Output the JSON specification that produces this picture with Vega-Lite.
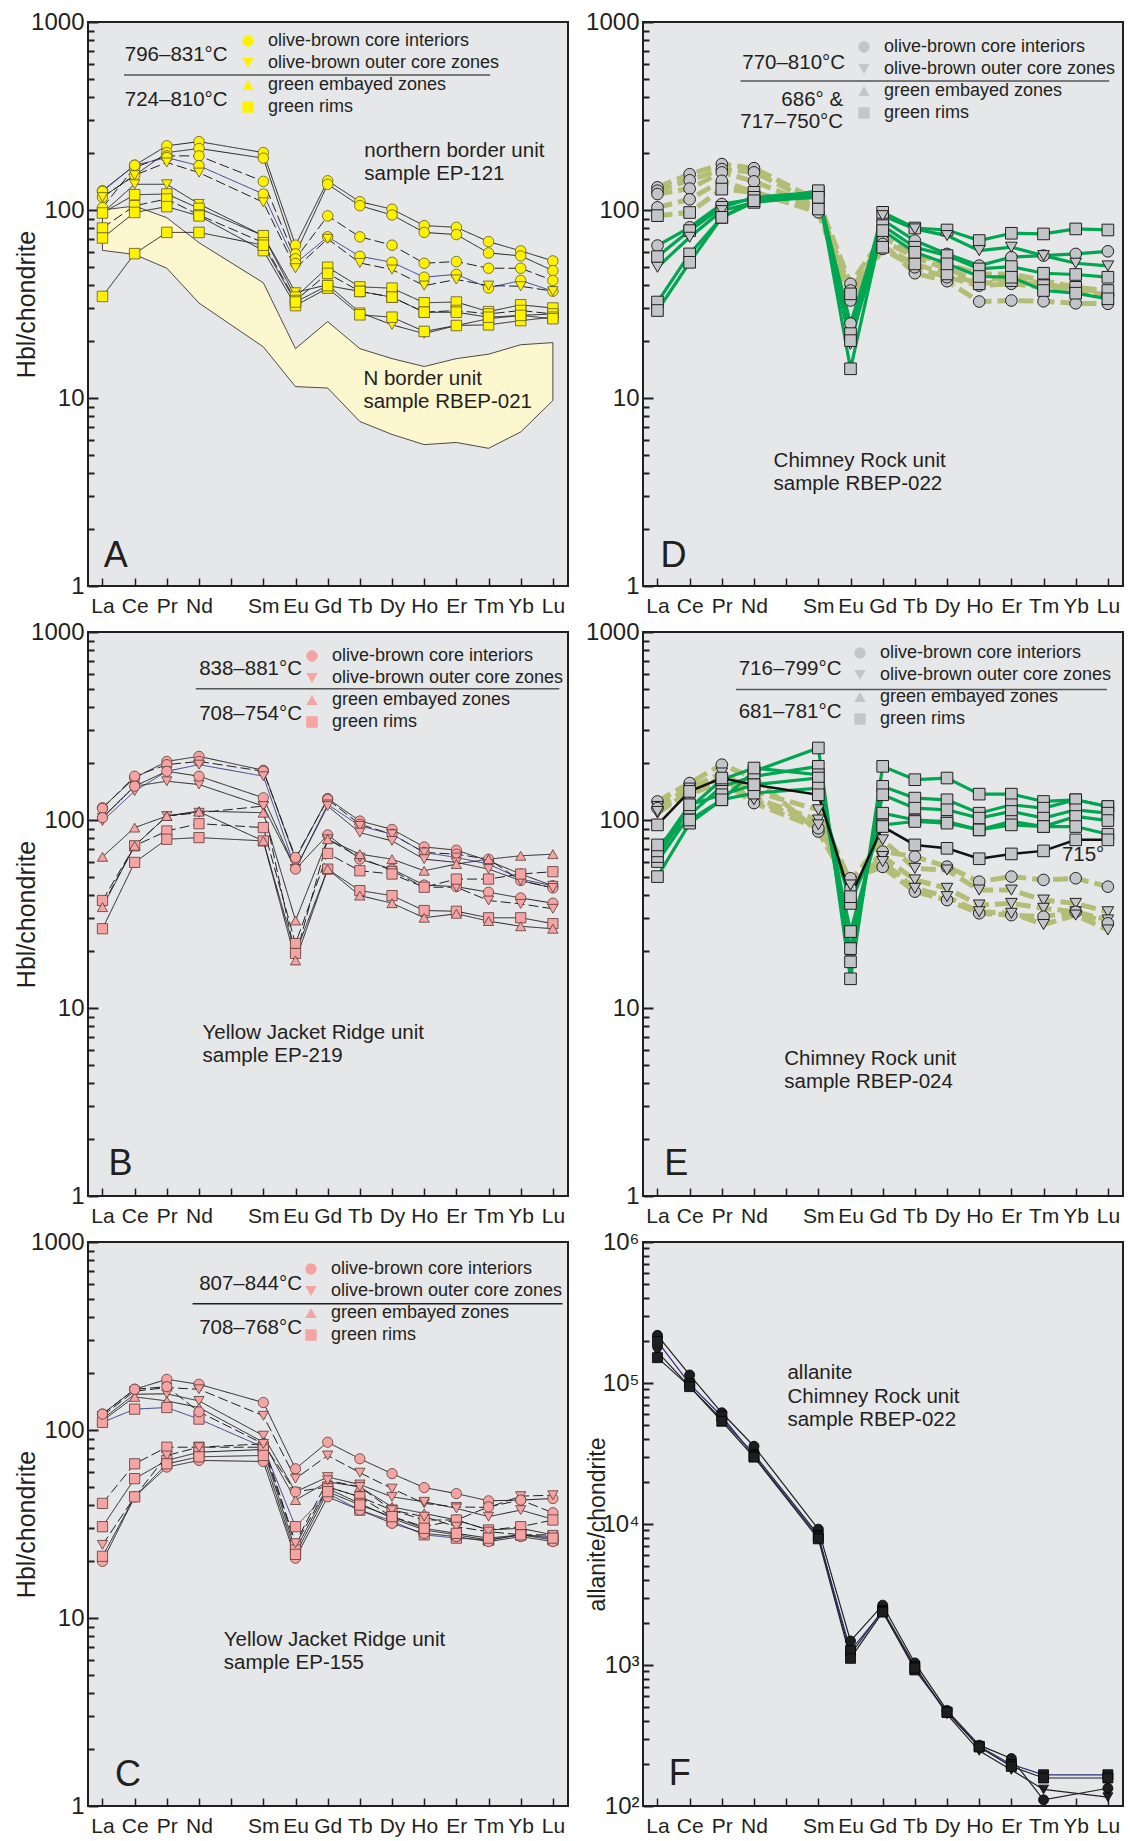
{
"$schema":"https://vega.github.io/schema/vega-lite/v6.json",
"background":"white",
"padding":{"left":13,"top":9,"right":0,"bottom":0},
"columns":2,
"spacing":{"row":46,"column":75},
"bounds":"flush",
"config":{
 "font":"Liberation Sans",
 "view":{"fill":"#e6e7e8","stroke":"#231f20","strokeWidth":2},
 "axis":{"grid":false,"domain":false,"labelColor":"#231f20","tickColor":"#231f20","titleColor":"#231f20","titleFontWeight":"normal","labelFont":"Liberation Sans","titleFont":"Liberation Sans","labelOverlap":false},
 "legend":{"labelFont":"Liberation Sans","labelColor":"#231f20","labelLimit":400,"symbolOpacity":1},
 "text":{"font":"Liberation Sans","color":"#231f20"}
},
"resolve":{"scale":{"x":"independent","y":"independent","shape":"independent","stroke":"independent","strokeDash":"independent"},"legend":{"shape":"independent"},"axis":{"x":"independent","y":"independent"}},
"datasets":{
"series":[
{"s":"a1","k":"ci","t":"k"},{"s":"a2","k":"ci","t":"k"},{"s":"a3","k":"ci","t":"kd"},{"s":"a4","k":"ci","t":"b"},{"s":"a5","k":"oc","t":"kd"},{"s":"a6","k":"oc","t":"k"},{"s":"a7","k":"gr","t":"k"},{"s":"a8","k":"gr","t":"kd"},{"s":"a9","k":"gr","t":"k"},{"s":"a10","k":"gr","t":"k"},
{"s":"d1","k":"ci","t":"o"},{"s":"d2","k":"ci","t":"o"},{"s":"d3","k":"ci","t":"o"},{"s":"d4","k":"ci","t":"o"},{"s":"d5","k":"gr","t":"o"},{"s":"d6","k":"ci","t":"g"},{"s":"d7","k":"gr","t":"g"},{"s":"d8","k":"oc","t":"g"},{"s":"d9","k":"gr","t":"g"},{"s":"d10","k":"gr","t":"g"},
{"s":"b1","k":"ci","t":"k"},{"s":"b2","k":"ci","t":"kd"},{"s":"b3","k":"oc","t":"b"},{"s":"b4","k":"oc","t":"k"},{"s":"b5","k":"ci","t":"k"},{"s":"b6","k":"oc","t":"kd"},{"s":"b7","k":"ge","t":"k"},{"s":"b8","k":"gr","t":"kd"},{"s":"b9","k":"gr","t":"k"},{"s":"b10","k":"ge","t":"k"},
{"s":"e1","k":"ci","t":"o"},{"s":"e2","k":"oc","t":"o"},{"s":"e3","k":"oc","t":"o"},{"s":"e4","k":"ci","t":"o"},{"s":"e5","k":"oc","t":"o"},{"s":"e6","k":"gr","t":"g"},{"s":"e7","k":"gr","t":"g"},{"s":"e8","k":"gr","t":"g"},{"s":"e9","k":"gr","t":"g"},{"s":"e10","k":"gr","t":"g"},{"s":"e11","k":"gr","t":"K"},
{"s":"c1","k":"ci","t":"k"},{"s":"c2","k":"oc","t":"kd"},{"s":"c3","k":"oc","t":"k"},{"s":"c4","k":"ge","t":"k"},{"s":"c5","k":"gr","t":"b"},{"s":"c6","k":"ci","t":"kd"},{"s":"c7","k":"gr","t":"kd"},{"s":"c8","k":"gr","t":"k"},{"s":"c9","k":"oc","t":"kd"},{"s":"c10","k":"ci","t":"k"},{"s":"c11","k":"gr","t":"k"},
{"s":"f1","k":"ci","t":"k"},{"s":"f2","k":"oc","t":"k"},{"s":"f3","k":"gr","t":"b"},{"s":"f4","k":"gr","t":"k"}
],
"bandA":[
{"z":57,"hi":100,"lo":61},{"z":58,"hi":105,"lo":58},{"z":59,"hi":91,"lo":49},{"z":60,"hi":67,"lo":32},{"z":62,"hi":41,"lo":18.7},{"z":63,"hi":18.3,"lo":11.5},{"z":64,"hi":25.5,"lo":11.3},{"z":65,"hi":18.3,"lo":7.5},{"z":66,"hi":16.2,"lo":6.4},{"z":67,"hi":14.7,"lo":5.65},{"z":68,"hi":16.2,"lo":5.8},{"z":69,"hi":17.1,"lo":5.4},{"z":70,"hi":19.2,"lo":6.6},{"z":71,"hi":19.7,"lo":9.7}
],
"A":[
{"s":"a1","z":57,"v":126.7},{"s":"a1","z":58,"v":173},{"s":"a1","z":59,"v":219.6},{"s":"a1","z":60,"v":231},{"s":"a1","z":62,"v":202},{"s":"a1","z":63,"v":65},{"s":"a1","z":64,"v":143},{"s":"a1","z":65,"v":110.7},{"s":"a1","z":66,"v":101},{"s":"a1","z":67,"v":82.6},{"s":"a1","z":68,"v":80.9},{"s":"a1","z":69,"v":67.9},{"s":"a1","z":70,"v":60.6},{"s":"a1","z":71,"v":53.6},
{"s":"a2","z":57,"v":117},{"s":"a2","z":58,"v":153},{"s":"a2","z":59,"v":202},{"s":"a2","z":60,"v":212.5},{"s":"a2","z":62,"v":188.8},{"s":"a2","z":63,"v":58.4},{"s":"a2","z":64,"v":137},{"s":"a2","z":65,"v":105.4},{"s":"a2","z":66,"v":94.1},{"s":"a2","z":67,"v":76},{"s":"a2","z":68,"v":74},{"s":"a2","z":69,"v":59.1},{"s":"a2","z":70,"v":57},{"s":"a2","z":71,"v":47.6},
{"s":"a3","z":57,"v":103},{"s":"a3","z":58,"v":168.5},{"s":"a3","z":59,"v":194},{"s":"a3","z":60,"v":194},{"s":"a3","z":62,"v":142},{"s":"a3","z":63,"v":55},{"s":"a3","z":64,"v":93},{"s":"a3","z":65,"v":72},{"s":"a3","z":66,"v":65},{"s":"a3","z":67,"v":52.1},{"s":"a3","z":68,"v":53.2},{"s":"a3","z":69,"v":49},{"s":"a3","z":70,"v":49},{"s":"a3","z":71,"v":42.2},
{"s":"a4","z":57,"v":125.6},{"s":"a4","z":58,"v":173},{"s":"a4","z":59,"v":190},{"s":"a4","z":60,"v":172},{"s":"a4","z":62,"v":121.6},{"s":"a4","z":63,"v":52},{"s":"a4","z":64,"v":72},{"s":"a4","z":65,"v":56.7},{"s":"a4","z":66,"v":52.7},{"s":"a4","z":67,"v":43.9},{"s":"a4","z":68,"v":45.5},{"s":"a4","z":69,"v":38.5},{"s":"a4","z":70,"v":42.2},{"s":"a4","z":71,"v":37},
{"s":"a5","z":57,"v":117},{"s":"a5","z":58,"v":153},{"s":"a5","z":59,"v":179},{"s":"a5","z":60,"v":158},{"s":"a5","z":62,"v":109.8},{"s":"a5","z":63,"v":49},{"s":"a5","z":64,"v":70.2},{"s":"a5","z":65,"v":52.3},{"s":"a5","z":66,"v":48.2},{"s":"a5","z":67,"v":39.6},{"s":"a5","z":68,"v":42.7},{"s":"a5","z":69,"v":39.6},{"s":"a5","z":70,"v":39.3},{"s":"a5","z":71,"v":37},
{"s":"a6","z":57,"v":96.4},{"s":"a6","z":58,"v":137},{"s":"a6","z":59,"v":137},{"s":"a6","z":60,"v":107.6},{"s":"a6","z":62,"v":73},{"s":"a6","z":63,"v":36.5},{"s":"a6","z":64,"v":40},{"s":"a6","z":65,"v":28.5},{"s":"a6","z":66,"v":24.5},{"s":"a6","z":67,"v":22},{"s":"a6","z":68,"v":24.3},{"s":"a6","z":69,"v":26.4},{"s":"a6","z":70,"v":27.5},{"s":"a6","z":71,"v":28},
{"s":"a7","z":57,"v":96.4},{"s":"a7","z":58,"v":120.6},{"s":"a7","z":59,"v":121.6},{"s":"a7","z":60,"v":102},{"s":"a7","z":62,"v":73},{"s":"a7","z":63,"v":34.4},{"s":"a7","z":64,"v":49.6},{"s":"a7","z":65,"v":39},{"s":"a7","z":66,"v":38.4},{"s":"a7","z":67,"v":32.1},{"s":"a7","z":68,"v":32.4},{"s":"a7","z":69,"v":28.8},{"s":"a7","z":70,"v":31.3},{"s":"a7","z":71,"v":30.1},
{"s":"a8","z":57,"v":80.2},{"s":"a8","z":58,"v":105.4},{"s":"a8","z":59,"v":114.4},{"s":"a8","z":60,"v":94.1},{"s":"a8","z":62,"v":67},{"s":"a8","z":63,"v":33},{"s":"a8","z":64,"v":46},{"s":"a8","z":65,"v":36.9},{"s":"a8","z":66,"v":34.4},{"s":"a8","z":67,"v":28.6},{"s":"a8","z":68,"v":29.2},{"s":"a8","z":69,"v":28},{"s":"a8","z":70,"v":29.2},{"s":"a8","z":71,"v":28},
{"s":"a9","z":57,"v":71},{"s":"a9","z":58,"v":97},{"s":"a9","z":59,"v":104.2},{"s":"a9","z":60,"v":93},{"s":"a9","z":62,"v":60.8},{"s":"a9","z":63,"v":31},{"s":"a9","z":64,"v":38.4},{"s":"a9","z":65,"v":27.7},{"s":"a9","z":66,"v":26.9},{"s":"a9","z":67,"v":22.6},{"s":"a9","z":68,"v":24.3},{"s":"a9","z":69,"v":24.5},{"s":"a9","z":70,"v":25.8},{"s":"a9","z":71,"v":26.9},
{"s":"a10","z":57,"v":34.7},{"s":"a10","z":58,"v":58.6},{"s":"a10","z":59,"v":76},{"s":"a10","z":60,"v":76},{"s":"a10","z":62,"v":65},{"s":"a10","z":63,"v":32.4},{"s":"a10","z":64,"v":39.6},{"s":"a10","z":65,"v":36.9},{"s":"a10","z":66,"v":34.4},{"s":"a10","z":67,"v":28.6},{"s":"a10","z":68,"v":28.6},{"s":"a10","z":69,"v":26.9},{"s":"a10","z":70,"v":27.5},{"s":"a10","z":71,"v":26.4}
],
"D":[
{"s":"d1","z":57,"v":132},{"s":"d1","z":58,"v":155},{"s":"d1","z":59,"v":175.5},{"s":"d1","z":60,"v":167},{"s":"d1","z":62,"v":112},{"s":"d1","z":63,"v":40.5},{"s":"d1","z":64,"v":71.6},{"s":"d1","z":65,"v":58.4},{"s":"d1","z":66,"v":51.7},{"s":"d1","z":67,"v":45.7},{"s":"d1","z":68,"v":45.7},{"s":"d1","z":69,"v":42.1},{"s":"d1","z":70,"v":38.8},{"s":"d1","z":71,"v":35.8},
{"s":"d2","z":57,"v":126.7},{"s":"d2","z":58,"v":144},{"s":"d2","z":59,"v":165},{"s":"d2","z":60,"v":158.5},{"s":"d2","z":62,"v":107.6},{"s":"d2","z":63,"v":37.3},{"s":"d2","z":64,"v":68.8},{"s":"d2","z":65,"v":56.1},{"s":"d2","z":66,"v":48.6},{"s":"d2","z":67,"v":42.1},{"s":"d2","z":68,"v":43.9},{"s":"d2","z":69,"v":40.5},{"s":"d2","z":70,"v":38},{"s":"d2","z":71,"v":34.4},
{"s":"d3","z":57,"v":121.6},{"s":"d3","z":58,"v":130},{"s":"d3","z":59,"v":158.5},{"s":"d3","z":60,"v":142},{"s":"d3","z":62,"v":103.3},{"s":"d3","z":63,"v":34.4},{"s":"d3","z":64,"v":66},{"s":"d3","z":65,"v":46.1},{"s":"d3","z":66,"v":41.8},{"s":"d3","z":67,"v":32.6},{"s":"d3","z":68,"v":33},{"s":"d3","z":69,"v":32.7},{"s":"d3","z":70,"v":31.9},{"s":"d3","z":71,"v":31.7},
{"s":"d4","z":57,"v":103.3},{"s":"d4","z":58,"v":114},{"s":"d4","z":59,"v":143},{"s":"d4","z":60,"v":124.2},{"s":"d4","z":62,"v":97.2},{"s":"d4","z":63,"v":33},{"s":"d4","z":64,"v":62.1},{"s":"d4","z":65,"v":49.6},{"s":"d4","z":66,"v":43.9},{"s":"d4","z":67,"v":39.6},{"s":"d4","z":68,"v":40.5},{"s":"d4","z":69,"v":38.8},{"s":"d4","z":70,"v":38},{"s":"d4","z":71,"v":35.1},
{"s":"d5","z":57,"v":93.3},{"s":"d5","z":58,"v":97},{"s":"d5","z":59,"v":129.2},{"s":"d5","z":60,"v":124.2},{"s":"d5","z":62,"v":101.2},{"s":"d5","z":63,"v":35.8},{"s":"d5","z":64,"v":63.4},{"s":"d5","z":65,"v":51.7},{"s":"d5","z":66,"v":45.7},{"s":"d5","z":67,"v":40.5},{"s":"d5","z":68,"v":42.1},{"s":"d5","z":69,"v":39.6},{"s":"d5","z":70,"v":38.8},{"s":"d5","z":71,"v":37.3},
{"s":"d6","z":57,"v":64.7},{"s":"d6","z":58,"v":80.9},{"s":"d6","z":59,"v":107.6},{"s":"d6","z":60,"v":114.4},{"s":"d6","z":62,"v":121.6},{"s":"d6","z":63,"v":24.9},{"s":"d6","z":64,"v":88.5},{"s":"d6","z":65,"v":68.8},{"s":"d6","z":66,"v":58.4},{"s":"d6","z":67,"v":50.6},{"s":"d6","z":68,"v":56.1},{"s":"d6","z":69,"v":57.2},{"s":"d6","z":70,"v":58.4},{"s":"d6","z":71,"v":60.3},
{"s":"d7","z":57,"v":56.5},{"s":"d7","z":58,"v":77.7},{"s":"d7","z":59,"v":103.3},{"s":"d7","z":60,"v":116.8},{"s":"d7","z":62,"v":124.2},{"s":"d7","z":63,"v":22},{"s":"d7","z":64,"v":97.2},{"s":"d7","z":65,"v":80.2},{"s":"d7","z":66,"v":78.3},{"s":"d7","z":67,"v":68.8},{"s":"d7","z":68,"v":75.2},{"s":"d7","z":69,"v":74.6},{"s":"d7","z":70,"v":79.3},{"s":"d7","z":71,"v":78.3},
{"s":"d8","z":57,"v":49.6},{"s":"d8","z":58,"v":71.6},{"s":"d8","z":59,"v":99.2},{"s":"d8","z":60,"v":109.8},{"s":"d8","z":62,"v":119.2},{"s":"d8","z":63,"v":19.3},{"s":"d8","z":64,"v":93.3},{"s":"d8","z":65,"v":79.3},{"s":"d8","z":66,"v":73.1},{"s":"d8","z":67,"v":60.8},{"s":"d8","z":68,"v":63.4},{"s":"d8","z":69,"v":57.2},{"s":"d8","z":70,"v":52.1},{"s":"d8","z":71,"v":50.4},
{"s":"d9","z":57,"v":32.4},{"s":"d9","z":58,"v":58.4},{"s":"d9","z":59,"v":91.4},{"s":"d9","z":60,"v":109.8},{"s":"d9","z":62,"v":126.7},{"s":"d9","z":63,"v":14.3},{"s":"d9","z":64,"v":82.6},{"s":"d9","z":65,"v":63.4},{"s":"d9","z":66,"v":57.2},{"s":"d9","z":67,"v":48.6},{"s":"d9","z":68,"v":50},{"s":"d9","z":69,"v":46.1},{"s":"d9","z":70,"v":45.4},{"s":"d9","z":71,"v":43.9},
{"s":"d10","z":57,"v":29.2},{"s":"d10","z":58,"v":52.7},{"s":"d10","z":59,"v":91.4},{"s":"d10","z":60,"v":112},{"s":"d10","z":62,"v":116.8},{"s":"d10","z":63,"v":20.2},{"s":"d10","z":64,"v":77.7},{"s":"d10","z":65,"v":59.6},{"s":"d10","z":66,"v":51.7},{"s":"d10","z":67,"v":44.3},{"s":"d10","z":68,"v":43.9},{"s":"d10","z":69,"v":37.3},{"s":"d10","z":70,"v":36.1},{"s":"d10","z":71,"v":33.7}
],
"B":[
{"s":"b1","z":57,"v":116.2},{"s":"b1","z":58,"v":167.5},{"s":"b1","z":59,"v":205},{"s":"b1","z":60,"v":218},{"s":"b1","z":62,"v":183.9},{"s":"b1","z":63,"v":61.9},{"s":"b1","z":64,"v":130.2},{"s":"b1","z":65,"v":98.8},{"s":"b1","z":66,"v":89.2},{"s":"b1","z":67,"v":71.9},{"s":"b1","z":68,"v":69.1},{"s":"b1","z":69,"v":60.7},{"s":"b1","z":70,"v":51.6},{"s":"b1","z":71,"v":44.7},
{"s":"b2","z":57,"v":115.3},{"s":"b2","z":58,"v":171},{"s":"b2","z":59,"v":197},{"s":"b2","z":60,"v":205},{"s":"b2","z":62,"v":181.6},{"s":"b2","z":63,"v":63.2},{"s":"b2","z":64,"v":128.6},{"s":"b2","z":65,"v":94.9},{"s":"b2","z":66,"v":84},{"s":"b2","z":67,"v":67.2},{"s":"b2","z":68,"v":65.8},{"s":"b2","z":69,"v":61.9},{"s":"b2","z":70,"v":47.6},{"s":"b2","z":71,"v":43.5},
{"s":"b3","z":57,"v":98.8},{"s":"b3","z":58,"v":142.4},{"s":"b3","z":59,"v":181.6},{"s":"b3","z":60,"v":197},{"s":"b3","z":62,"v":171},{"s":"b3","z":63,"v":54.8},{"s":"b3","z":64,"v":121},{"s":"b3","z":65,"v":93},{"s":"b3","z":66,"v":84},{"s":"b3","z":67,"v":67.2},{"s":"b3","z":68,"v":63.2},{"s":"b3","z":69,"v":58.3},{"s":"b3","z":70,"v":48.5},{"s":"b3","z":71,"v":44.7},
{"s":"b4","z":57,"v":102.9},{"s":"b4","z":58,"v":151.3},{"s":"b4","z":59,"v":160.8},{"s":"b4","z":60,"v":154.4},{"s":"b4","z":62,"v":118.6},{"s":"b4","z":63,"v":54.8},{"s":"b4","z":64,"v":118.6},{"s":"b4","z":65,"v":85.7},{"s":"b4","z":66,"v":77.4},{"s":"b4","z":67,"v":61.9},{"s":"b4","z":68,"v":59.5},{"s":"b4","z":69,"v":54.8},{"s":"b4","z":70,"v":47.6},{"s":"b4","z":71,"v":43.5},
{"s":"b5","z":57,"v":102.9},{"s":"b5","z":58,"v":151.3},{"s":"b5","z":59,"v":181.6},{"s":"b5","z":60,"v":171},{"s":"b5","z":62,"v":131.3},{"s":"b5","z":63,"v":54.8},{"s":"b5","z":64,"v":83.3},{"s":"b5","z":65,"v":61.9},{"s":"b5","z":66,"v":54.8},{"s":"b5","z":67,"v":45.1},{"s":"b5","z":68,"v":44.2},{"s":"b5","z":69,"v":41.3},{"s":"b5","z":70,"v":38.5},{"s":"b5","z":71,"v":36.1},
{"s":"b6","z":57,"v":35.1},{"s":"b6","z":58,"v":72.9},{"s":"b6","z":59,"v":105},{"s":"b6","z":60,"v":109.3},{"s":"b6","z":62,"v":118.6},{"s":"b6","z":63,"v":18.7},{"s":"b6","z":64,"v":79},{"s":"b6","z":65,"v":63.2},{"s":"b6","z":66,"v":53.7},{"s":"b6","z":67,"v":43.9},{"s":"b6","z":68,"v":43.9},{"s":"b6","z":69,"v":37.3},{"s":"b6","z":70,"v":35.8},{"s":"b6","z":71,"v":33.7},
{"s":"b7","z":57,"v":63.7},{"s":"b7","z":58,"v":91.1},{"s":"b7","z":59,"v":105},{"s":"b7","z":60,"v":111.6},{"s":"b7","z":62,"v":109.3},{"s":"b7","z":63,"v":29.2},{"s":"b7","z":64,"v":79},{"s":"b7","z":65,"v":65.8},{"s":"b7","z":66,"v":61.9},{"s":"b7","z":67,"v":53.7},{"s":"b7","z":68,"v":58.3},{"s":"b7","z":69,"v":61.9},{"s":"b7","z":70,"v":64.5},{"s":"b7","z":71,"v":65.8},
{"s":"b8","z":57,"v":37.3},{"s":"b8","z":58,"v":72.9},{"s":"b8","z":59,"v":87.4},{"s":"b8","z":60,"v":95.6},{"s":"b8","z":62,"v":91.1},{"s":"b8","z":63,"v":22},{"s":"b8","z":64,"v":66.4},{"s":"b8","z":65,"v":53.7},{"s":"b8","z":66,"v":51.6},{"s":"b8","z":67,"v":43.9},{"s":"b8","z":68,"v":48.5},{"s":"b8","z":69,"v":48.5},{"s":"b8","z":70,"v":51.6},{"s":"b8","z":71,"v":53.1},
{"s":"b9","z":57,"v":26.4},{"s":"b9","z":58,"v":59.5},{"s":"b9","z":59,"v":79},{"s":"b9","z":60,"v":80.6},{"s":"b9","z":62,"v":77.4},{"s":"b9","z":63,"v":19.5},{"s":"b9","z":64,"v":54.8},{"s":"b9","z":65,"v":42.1},{"s":"b9","z":66,"v":39.6},{"s":"b9","z":67,"v":33},{"s":"b9","z":68,"v":32.7},{"s":"b9","z":69,"v":30.2},{"s":"b9","z":70,"v":30.2},{"s":"b9","z":71,"v":28.1},
{"s":"b10","z":57,"v":34.4},{"s":"b10","z":58,"v":72.9},{"s":"b10","z":59,"v":105},{"s":"b10","z":60,"v":110.7},{"s":"b10","z":62,"v":77.4},{"s":"b10","z":63,"v":17.9},{"s":"b10","z":64,"v":54.8},{"s":"b10","z":65,"v":39.6},{"s":"b10","z":66,"v":36.1},{"s":"b10","z":67,"v":30.2},{"s":"b10","z":68,"v":31.7},{"s":"b10","z":69,"v":29},{"s":"b10","z":70,"v":27.2},{"s":"b10","z":71,"v":26.4}
],
"E":[
{"s":"e1","z":57,"v":125.5},{"s":"e1","z":58,"v":157.2},{"s":"e1","z":59,"v":197},{"s":"e1","z":60,"v":167.2},{"s":"e1","z":62,"v":86.8},{"s":"e1","z":63,"v":43.3},{"s":"e1","z":64,"v":67.9},{"s":"e1","z":65,"v":63.9},{"s":"e1","z":66,"v":56.5},{"s":"e1","z":67,"v":47},{"s":"e1","z":68,"v":50},{"s":"e1","z":69,"v":48},{"s":"e1","z":70,"v":49},{"s":"e1","z":71,"v":44.2},
{"s":"e2","z":57,"v":118},{"s":"e2","z":58,"v":147.8},{"s":"e2","z":59,"v":177.8},{"s":"e2","z":60,"v":141.9},{"s":"e2","z":62,"v":113.3},{"s":"e2","z":63,"v":47},{"s":"e2","z":64,"v":78.4},{"s":"e2","z":65,"v":55.3},{"s":"e2","z":66,"v":54.2},{"s":"e2","z":67,"v":42.4},{"s":"e2","z":68,"v":42.4},{"s":"e2","z":69,"v":37.5},{"s":"e2","z":70,"v":36},{"s":"e2","z":71,"v":32.5},
{"s":"e3","z":57,"v":108.7},{"s":"e3","z":58,"v":141.9},{"s":"e3","z":59,"v":167.2},{"s":"e3","z":60,"v":130.8},{"s":"e3","z":62,"v":100},{"s":"e3","z":63,"v":45.1},{"s":"e3","z":64,"v":63.9},{"s":"e3","z":65,"v":48},{"s":"e3","z":66,"v":43.3},{"s":"e3","z":67,"v":35.3},{"s":"e3","z":68,"v":36},{"s":"e3","z":69,"v":33.9},{"s":"e3","z":70,"v":32.5},{"s":"e3","z":71,"v":29.4},
{"s":"e4","z":57,"v":115.6},{"s":"e4","z":58,"v":136.2},{"s":"e4","z":59,"v":160.5},{"s":"e4","z":60,"v":123},{"s":"e4","z":62,"v":90.4},{"s":"e4","z":63,"v":49},{"s":"e4","z":64,"v":56.3},{"s":"e4","z":65,"v":41.6},{"s":"e4","z":66,"v":37.5},{"s":"e4","z":67,"v":31.9},{"s":"e4","z":68,"v":31.2},{"s":"e4","z":69,"v":30.6},{"s":"e4","z":70,"v":32.5},{"s":"e4","z":71,"v":28.2},
{"s":"e5","z":57,"v":111},{"s":"e5","z":58,"v":139},{"s":"e5","z":59,"v":163.8},{"s":"e5","z":60,"v":128.1},{"s":"e5","z":62,"v":94.2},{"s":"e5","z":63,"v":45.1},{"s":"e5","z":64,"v":60.1},{"s":"e5","z":65,"v":43.3},{"s":"e5","z":66,"v":39.1},{"s":"e5","z":67,"v":32.5},{"s":"e5","z":68,"v":31.9},{"s":"e5","z":69,"v":27.8},{"s":"e5","z":70,"v":31.2},{"s":"e5","z":71,"v":26},
{"s":"e6","z":57,"v":50},{"s":"e6","z":58,"v":96.2},{"s":"e6","z":59,"v":128.1},{"s":"e6","z":60,"v":181.4},{"s":"e6","z":62,"v":241.6},{"s":"e6","z":63,"v":14.3},{"s":"e6","z":64,"v":192.9},{"s":"e6","z":65,"v":163.8},{"s":"e6","z":66,"v":167.2},{"s":"e6","z":67,"v":137.3},{"s":"e6","z":68,"v":137.3},{"s":"e6","z":69,"v":125.5},{"s":"e6","z":70,"v":128.1},{"s":"e6","z":71,"v":118},
{"s":"e7","z":57,"v":60.1},{"s":"e7","z":58,"v":106.6},{"s":"e7","z":59,"v":151},{"s":"e7","z":60,"v":170.6},{"s":"e7","z":62,"v":192.9},{"s":"e7","z":63,"v":17.6},{"s":"e7","z":64,"v":151},{"s":"e7","z":65,"v":130.8},{"s":"e7","z":66,"v":128.1},{"s":"e7","z":67,"v":108.7},{"s":"e7","z":68,"v":120.5},{"s":"e7","z":69,"v":115.6},{"s":"e7","z":70,"v":128.1},{"s":"e7","z":71,"v":118},
{"s":"e8","z":57,"v":63.9},{"s":"e8","z":58,"v":115.6},{"s":"e8","z":59,"v":163.8},{"s":"e8","z":60,"v":189},{"s":"e8","z":62,"v":174.1},{"s":"e8","z":63,"v":20.7},{"s":"e8","z":64,"v":136.2},{"s":"e8","z":65,"v":115.6},{"s":"e8","z":66,"v":113.3},{"s":"e8","z":67,"v":102.3},{"s":"e8","z":68,"v":111},{"s":"e8","z":69,"v":102.3},{"s":"e8","z":70,"v":113.3},{"s":"e8","z":71,"v":108.7},
{"s":"e9","z":57,"v":68.5},{"s":"e9","z":58,"v":120.5},{"s":"e9","z":59,"v":136.2},{"s":"e9","z":60,"v":154},{"s":"e9","z":62,"v":167.2},{"s":"e9","z":63,"v":25.5},{"s":"e9","z":64,"v":108.7},{"s":"e9","z":65,"v":100},{"s":"e9","z":66,"v":98.2},{"s":"e9","z":67,"v":88.6},{"s":"e9","z":68,"v":98.2},{"s":"e9","z":69,"v":92.3},{"s":"e9","z":70,"v":104.4},{"s":"e9","z":71,"v":99.3},
{"s":"e10","z":57,"v":73.7},{"s":"e10","z":58,"v":100},{"s":"e10","z":59,"v":128.1},{"s":"e10","z":60,"v":139},{"s":"e10","z":62,"v":147.8},{"s":"e10","z":63,"v":36},{"s":"e10","z":64,"v":94.2},{"s":"e10","z":65,"v":98.2},{"s":"e10","z":66,"v":96.2},{"s":"e10","z":67,"v":88.6},{"s":"e10","z":68,"v":94.2},{"s":"e10","z":69,"v":92.3},{"s":"e10","z":70,"v":92.3},{"s":"e10","z":71,"v":84},
{"s":"e11","z":57,"v":94.2},{"s":"e11","z":58,"v":141.9},{"s":"e11","z":59,"v":167.2},{"s":"e11","z":60,"v":154},{"s":"e11","z":62,"v":136.2},{"s":"e11","z":63,"v":39.1},{"s":"e11","z":64,"v":92.3},{"s":"e11","z":65,"v":73.7},{"s":"e11","z":66,"v":70.7},{"s":"e11","z":67,"v":62.2},{"s":"e11","z":68,"v":66},{"s":"e11","z":69,"v":68.5},{"s":"e11","z":70,"v":78.4},{"s":"e11","z":71,"v":78.4}
],
"C":[
{"s":"c1","z":57,"v":121.5},{"s":"c1","z":58,"v":164.7},{"s":"c1","z":59,"v":186},{"s":"c1","z":60,"v":175},{"s":"c1","z":62,"v":140},{"s":"c1","z":63,"v":62.2},{"s":"c1","z":64,"v":86.1},{"s":"c1","z":65,"v":70.3},{"s":"c1","z":66,"v":58.6},{"s":"c1","z":67,"v":49.4},{"s":"c1","z":68,"v":45.9},{"s":"c1","z":69,"v":42},{"s":"c1","z":70,"v":42.4},{"s":"c1","z":71,"v":43.2},
{"s":"c2","z":57,"v":119},{"s":"c2","z":58,"v":161},{"s":"c2","z":59,"v":168},{"s":"c2","z":60,"v":164.7},{"s":"c2","z":62,"v":119},{"s":"c2","z":63,"v":55.1},{"s":"c2","z":64,"v":73.2},{"s":"c2","z":65,"v":59.3},{"s":"c2","z":66,"v":48.8},{"s":"c2","z":67,"v":40.7},{"s":"c2","z":68,"v":39},{"s":"c2","z":69,"v":38.7},{"s":"c2","z":70,"v":44.5},{"s":"c2","z":71,"v":45},
{"s":"c3","z":57,"v":114.3},{"s":"c3","z":58,"v":155},{"s":"c3","z":59,"v":155.7},{"s":"c3","z":60,"v":142.8},{"s":"c3","z":62,"v":93.3},{"s":"c3","z":63,"v":46.9},{"s":"c3","z":64,"v":56.2},{"s":"c3","z":65,"v":51.3},{"s":"c3","z":66,"v":44.1},{"s":"c3","z":67,"v":41.5},{"s":"c3","z":68,"v":38.3},{"s":"c3","z":69,"v":34.6},{"s":"c3","z":70,"v":37.5},{"s":"c3","z":71,"v":33.5},
{"s":"c4","z":57,"v":112},{"s":"c4","z":58,"v":150},{"s":"c4","z":59,"v":142.8},{"s":"c4","z":60,"v":131.7},{"s":"c4","z":62,"v":86.1},{"s":"c4","z":63,"v":42.4},{"s":"c4","z":64,"v":53},{"s":"c4","z":65,"v":49.8},{"s":"c4","z":66,"v":39},{"s":"c4","z":67,"v":36},{"s":"c4","z":68,"v":33.2},{"s":"c4","z":69,"v":29.4},{"s":"c4","z":70,"v":30},{"s":"c4","z":71,"v":27.7},
{"s":"c5","z":57,"v":109.8},{"s":"c5","z":58,"v":129.1},{"s":"c5","z":59,"v":131.7},{"s":"c5","z":60,"v":114.3},{"s":"c5","z":62,"v":81},{"s":"c5","z":63,"v":30.6},{"s":"c5","z":64,"v":46},{"s":"c5","z":65,"v":37.5},{"s":"c5","z":66,"v":32.8},{"s":"c5","z":67,"v":27.7},{"s":"c5","z":68,"v":26.6},{"s":"c5","z":69,"v":26},{"s":"c5","z":70,"v":27.7},{"s":"c5","z":71,"v":27.1},
{"s":"c6","z":57,"v":121.5},{"s":"c6","z":58,"v":164.7},{"s":"c6","z":59,"v":170},{"s":"c6","z":60,"v":125},{"s":"c6","z":62,"v":84.4},{"s":"c6","z":63,"v":46.9},{"s":"c6","z":64,"v":49.8},{"s":"c6","z":65,"v":44.1},{"s":"c6","z":66,"v":34.6},{"s":"c6","z":67,"v":30.6},{"s":"c6","z":68,"v":33.2},{"s":"c6","z":69,"v":39},{"s":"c6","z":70,"v":42.4},{"s":"c6","z":71,"v":36.3},
{"s":"c7","z":57,"v":40.7},{"s":"c7","z":58,"v":66.1},{"s":"c7","z":59,"v":81},{"s":"c7","z":60,"v":81},{"s":"c7","z":62,"v":81},{"s":"c7","z":63,"v":24.5},{"s":"c7","z":64,"v":49.8},{"s":"c7","z":65,"v":44.1},{"s":"c7","z":66,"v":37.5},{"s":"c7","z":67,"v":33.2},{"s":"c7","z":68,"v":33.2},{"s":"c7","z":69,"v":29.4},{"s":"c7","z":70,"v":30.6},{"s":"c7","z":71,"v":33.2},
{"s":"c8","z":57,"v":30.6},{"s":"c8","z":58,"v":55.1},{"s":"c8","z":59,"v":68.9},{"s":"c8","z":60,"v":76.2},{"s":"c8","z":62,"v":78.8},{"s":"c8","z":63,"v":23},{"s":"c8","z":64,"v":48.8},{"s":"c8","z":65,"v":40.7},{"s":"c8","z":66,"v":33.9},{"s":"c8","z":67,"v":29.4},{"s":"c8","z":68,"v":27.7},{"s":"c8","z":69,"v":26},{"s":"c8","z":70,"v":27.7},{"s":"c8","z":71,"v":26},
{"s":"c9","z":57,"v":24.5},{"s":"c9","z":58,"v":44.1},{"s":"c9","z":59,"v":73.2},{"s":"c9","z":60,"v":81},{"s":"c9","z":62,"v":84.4},{"s":"c9","z":63,"v":25},{"s":"c9","z":64,"v":54},{"s":"c9","z":65,"v":49.8},{"s":"c9","z":66,"v":37.5},{"s":"c9","z":67,"v":34.6},{"s":"c9","z":68,"v":30.6},{"s":"c9","z":69,"v":28.8},{"s":"c9","z":70,"v":27.7},{"s":"c9","z":71,"v":27.7},
{"s":"c10","z":57,"v":20},{"s":"c10","z":58,"v":44.1},{"s":"c10","z":59,"v":63.5},{"s":"c10","z":60,"v":68.9},{"s":"c10","z":62,"v":68},{"s":"c10","z":63,"v":20.8},{"s":"c10","z":64,"v":44.1},{"s":"c10","z":65,"v":37.5},{"s":"c10","z":66,"v":31.9},{"s":"c10","z":67,"v":28.2},{"s":"c10","z":68,"v":27.1},{"s":"c10","z":69,"v":25.5},{"s":"c10","z":70,"v":27.1},{"s":"c10","z":71,"v":25.5},
{"s":"c11","z":57,"v":21.3},{"s":"c11","z":58,"v":44.1},{"s":"c11","z":59,"v":66.1},{"s":"c11","z":60,"v":72},{"s":"c11","z":62,"v":73.2},{"s":"c11","z":63,"v":21.8},{"s":"c11","z":64,"v":47},{"s":"c11","z":65,"v":39.9},{"s":"c11","z":66,"v":34.6},{"s":"c11","z":67,"v":30},{"s":"c11","z":68,"v":28.2},{"s":"c11","z":69,"v":26.6},{"s":"c11","z":70,"v":27.7},{"s":"c11","z":71,"v":26.6}
],
"F":[
{"s":"f1","z":57,"v":217900},{"s":"f1","z":58,"v":114000},{"s":"f1","z":59,"v":61500},{"s":"f1","z":60,"v":35600},{"s":"f1","z":62,"v":9190},{"s":"f1","z":63,"v":1480},{"s":"f1","z":64,"v":2657},{"s":"f1","z":65,"v":1034},{"s":"f1","z":66,"v":476},{"s":"f1","z":67,"v":270},{"s":"f1","z":68,"v":217},{"s":"f1","z":69,"v":110.6},{"s":"f1","z":71,"v":133.6},
{"s":"f2","z":57,"v":166300},{"s":"f2","z":58,"v":94300},{"s":"f2","z":59,"v":55250},{"s":"f2","z":60,"v":31350},{"s":"f2","z":62,"v":8360},{"s":"f2","z":63,"v":1187},{"s":"f2","z":64,"v":2449},{"s":"f2","z":65,"v":983},{"s":"f2","z":66,"v":447},{"s":"f2","z":67,"v":246},{"s":"f2","z":68,"v":180},{"s":"f2","z":69,"v":131},{"s":"f2","z":71,"v":115.6},
{"s":"f3","z":57,"v":197000},{"s":"f3","z":58,"v":98600},{"s":"f3","z":59,"v":58100},{"s":"f3","z":60,"v":30380},{"s":"f3","z":62,"v":8100},{"s":"f3","z":63,"v":1265},{"s":"f3","z":64,"v":2403},{"s":"f3","z":65,"v":923},{"s":"f3","z":66,"v":462},{"s":"f3","z":67,"v":265},{"s":"f3","z":68,"v":197},{"s":"f3","z":69,"v":166.5},{"s":"f3","z":71,"v":166.5},
{"s":"f4","z":57,"v":151300},{"s":"f4","z":58,"v":94300},{"s":"f4","z":59,"v":53540},{"s":"f4","z":60,"v":29810},{"s":"f4","z":62,"v":7850},{"s":"f4","z":63,"v":1115},{"s":"f4","z":64,"v":2373},{"s":"f4","z":65,"v":952},{"s":"f4","z":66,"v":462},{"s":"f4","z":67,"v":262},{"s":"f4","z":68,"v":191},{"s":"f4","z":69,"v":158},{"s":"f4","z":71,"v":158}
]
},
"concat":[
{
 "width":480,"height":564,
 "layer":[
  {"data":{"name":"bandA"},"mark":{"type":"area","fill":"#fdf7cf","stroke":"#231f20","strokeWidth":0.8},
   "encoding":{
    "x":{"field":"z","type":"quantitative","scale":{"domain":[56.55,71.47],"nice":false,"zero":false},"axis":{"values":[57,58,59,60,61,62,63,64,65,66,67,68,69,70,71],"tickCount":30,"labelExpr":"['La','Ce','Pr','Nd','','Sm','Eu','Gd','Tb','Dy','Ho','Er','Tm','Yb','Lu'][datum.value-57]","title":null,"tickSize":-8,"tickWidth":1.5,"labelFontSize":21,"labelFont":"Liberation Sans Narrow, Arial Narrow, Liberation Sans","labelPadding":17,"labelOverlap":false,"labelFlush":false,"labelBound":false}},
    "y":{"field":"hi","type":"quantitative","scale":{"type":"log","domain":[1,1000],"nice":false},"axis":{"values":[1,2,3,4,5,6,7,8,9,10,20,30,40,50,60,70,80,90,100,200,300,400,500,600,700,800,900,1000],"tickCount":60,"labelExpr":"indexof([1,10,100,1000],datum.value)>=0?format(datum.value,'d'):''","tickSize":{"condition":{"test":"indexof([1,10,100,1000],datum.value)>=0","value":-10},"value":-6},"tickWidth":2,"labelFontSize":24,"labelPadding":14,"title":"Hbl/chondrite","titleFontSize":25,"titlePadding":-9,"labelOverlap":false,"labelFlush":false,"labelBound":false}},
    "y2":{"field":"lo"}
   }},
  {"data":{"name":"A"},"transform":[{"lookup":"s","from":{"data":{"name":"series"},"key":"s","fields":["k","t"]}}],
   "mark":{"type":"line","strokeWidth":1},
   "encoding":{"x":{"field":"z","type":"quantitative"},"y":{"field":"v","type":"quantitative"},"detail":{"field":"s","type":"nominal"},
    "stroke":{"field":"t","type":"nominal","scale":{"domain":["k","kd","b"],"range":["#231f20","#231f20","#3a3a8c"]},"legend":null},
    "strokeDash":{"field":"t","type":"nominal","scale":{"domain":["k","kd","b"],"range":[[1,0],[10,4],[1,0]]},"legend":null}}},
  {"data":{"name":"A"},"transform":[{"lookup":"s","from":{"data":{"name":"series"},"key":"s","fields":["k","t"]}}],
   "mark":{"type":"point","filled":false,"fill":"#fff200","stroke":"#5e5a1e","strokeWidth":0.8,"size":110,"opacity":1,"fillOpacity":1,"strokeOpacity":1},
   "encoding":{"x":{"field":"z","type":"quantitative"},"y":{"field":"v","type":"quantitative"},
    "shape":{"field":"k","type":"nominal","scale":{"domain":["ci","oc","ge","gr"],"range":["circle","triangle-down","triangle-up","square"]},
     "legend":{"orient":"none","legendX":151,"legendY":10,"title":null,"labelFontSize":18,"labelLimit":400,"labelExpr":"datum.value=='ci'?'olive-brown core interiors':datum.value=='oc'?'olive-brown outer core zones':datum.value=='ge'?'green embayed zones':'green rims'","symbolSize":130,"symbolFillColor":"#fff200","symbolStrokeColor":"#5e5a1e","symbolStrokeWidth":1,"symbolOpacity":1,"rowPadding":4,"labelOffset":11,"padding":0}}}},
  {"data":{"values":[{}]},"mark":{"type":"text","align":"right","baseline":"middle","fontSize":20.5},"encoding":{"x":{"datum":60.89,"type":"quantitative"},"y":{"datum":667,"type":"quantitative"},"text":{"value":"796–831°C"}}},
  {"data":{"values":[{}]},"mark":{"type":"text","align":"right","baseline":"middle","fontSize":20.5},"encoding":{"x":{"datum":60.89,"type":"quantitative"},"y":{"datum":386,"type":"quantitative"},"text":{"value":"724–810°C"}}},
  {"data":{"values":[{}]},"mark":{"type":"rule","stroke":"#555555","strokeWidth":1.5},"encoding":{"x":{"datum":57.67,"type":"quantitative"},"x2":{"datum":69.05},"y":{"datum":522,"type":"quantitative"}}},
  {"data":{"values":[{}]},"mark":{"type":"text","align":"left","baseline":"middle","fontSize":20.5,"lineHeight":23},"encoding":{"x":{"datum":65.14,"type":"quantitative"},"y":{"datum":205,"type":"quantitative"},"text":{"value":["northern border unit","sample EP-121"]}}},
  {"data":{"values":[{}]},"mark":{"type":"text","align":"left","baseline":"middle","fontSize":20.5,"lineHeight":23},"encoding":{"x":{"datum":65.11,"type":"quantitative"},"y":{"datum":12.6,"type":"quantitative"},"text":{"value":["N border unit","sample RBEP-021"]}}},
  {"data":{"values":[{}]},"mark":{"type":"text","align":"center","baseline":"alphabetic","fontSize":36},"encoding":{"x":{"datum":57.41,"type":"quantitative"},"y":{"datum":1.262,"type":"quantitative"},"text":{"value":"A"}}}
 ]
},
{
 "width":480,"height":564,
 "layer":[
  {"data":{"name":"D"},"transform":[{"lookup":"s","from":{"data":{"name":"series"},"key":"s","fields":["k","t"]}},{"filter":"datum.t=='o'"}],
   "mark":{"type":"line","stroke":"#b4bd75","strokeWidth":5,"strokeDash":[15,6]},
   "encoding":{
    "x":{"field":"z","type":"quantitative","scale":{"domain":[56.55,71.47],"nice":false,"zero":false},"axis":{"values":[57,58,59,60,61,62,63,64,65,66,67,68,69,70,71],"tickCount":30,"labelExpr":"['La','Ce','Pr','Nd','','Sm','Eu','Gd','Tb','Dy','Ho','Er','Tm','Yb','Lu'][datum.value-57]","title":null,"tickSize":-8,"tickWidth":1.5,"labelFontSize":21,"labelPadding":17,"labelOverlap":false,"labelFlush":false,"labelBound":false}},
    "y":{"field":"v","type":"quantitative","scale":{"type":"log","domain":[1,1000],"nice":false},"axis":{"values":[1,2,3,4,5,6,7,8,9,10,20,30,40,50,60,70,80,90,100,200,300,400,500,600,700,800,900,1000],"tickCount":60,"labelExpr":"indexof([1,10,100,1000],datum.value)>=0?format(datum.value,'d'):''","tickSize":{"condition":{"test":"indexof([1,10,100,1000],datum.value)>=0","value":-10},"value":-6},"tickWidth":2,"labelFontSize":24,"labelPadding":14,"title":null,"labelOverlap":false,"labelFlush":false,"labelBound":false}},
    "detail":{"field":"s","type":"nominal"}}},
  {"data":{"name":"D"},"transform":[{"lookup":"s","from":{"data":{"name":"series"},"key":"s","fields":["k","t"]}},{"filter":"datum.t=='g'"}],
   "mark":{"type":"line","stroke":"#00a651","strokeWidth":3.2},
   "encoding":{"x":{"field":"z","type":"quantitative"},"y":{"field":"v","type":"quantitative"},"detail":{"field":"s","type":"nominal"}}},
  {"data":{"name":"D"},"transform":[{"lookup":"s","from":{"data":{"name":"series"},"key":"s","fields":["k","t"]}}],
   "mark":{"type":"point","filled":false,"fill":"#c4c5c8","stroke":"#231f20","strokeWidth":1,"size":135,"opacity":1,"fillOpacity":1,"strokeOpacity":1},
   "encoding":{"x":{"field":"z","type":"quantitative"},"y":{"field":"v","type":"quantitative"},
    "shape":{"field":"k","type":"nominal","scale":{"domain":["ci","oc","ge","gr"],"range":["circle","triangle-down","triangle-up","square"]},
     "legend":{"orient":"none","legendX":212,"legendY":16,"title":null,"labelFontSize":18,"labelLimit":400,"labelExpr":"datum.value=='ci'?'olive-brown core interiors':datum.value=='oc'?'olive-brown outer core zones':datum.value=='ge'?'green embayed zones':'green rims'","symbolSize":130,"symbolFillColor":"#c4c5c8","symbolStrokeColor":"#231f20","symbolStrokeWidth":1,"symbolOpacity":1,"rowPadding":4,"labelOffset":11,"padding":0}}}},
  {"data":{"values":[{}]},"mark":{"type":"text","align":"right","baseline":"middle","fontSize":20.5},"encoding":{"x":{"datum":62.83,"type":"quantitative"},"y":{"datum":603,"type":"quantitative"},"text":{"value":"770–810°C"}}},
  {"data":{"values":[{}]},"mark":{"type":"text","align":"right","baseline":"middle","fontSize":20.5,"lineHeight":22.5},"encoding":{"x":{"datum":62.77,"type":"quantitative"},"y":{"datum":386,"type":"quantitative"},"text":{"value":["686° &","717–750°C"]}}},
  {"data":{"values":[{}]},"mark":{"type":"rule","stroke":"#555555","strokeWidth":1.5},"encoding":{"x":{"datum":59.58,"type":"quantitative"},"x2":{"datum":71.04},"y":{"datum":485,"type":"quantitative"}}},
  {"data":{"values":[{}]},"mark":{"type":"text","align":"left","baseline":"middle","fontSize":20.5,"lineHeight":23},"encoding":{"x":{"datum":60.61,"type":"quantitative"},"y":{"datum":4.6,"type":"quantitative"},"text":{"value":["Chimney Rock unit","sample RBEP-022"]}}},
  {"data":{"values":[{}]},"mark":{"type":"text","align":"center","baseline":"alphabetic","fontSize":36},"encoding":{"x":{"datum":57.5,"type":"quantitative"},"y":{"datum":1.262,"type":"quantitative"},"text":{"value":"D"}}}
 ]
},
{
 "width":480,"height":564,
 "layer":[
  {"data":{"name":"B"},"transform":[{"lookup":"s","from":{"data":{"name":"series"},"key":"s","fields":["k","t"]}}],
   "mark":{"type":"line","strokeWidth":1},
   "encoding":{
    "x":{"field":"z","type":"quantitative","scale":{"domain":[56.55,71.47],"nice":false,"zero":false},"axis":{"values":[57,58,59,60,61,62,63,64,65,66,67,68,69,70,71],"tickCount":30,"labelExpr":"['La','Ce','Pr','Nd','','Sm','Eu','Gd','Tb','Dy','Ho','Er','Tm','Yb','Lu'][datum.value-57]","title":null,"tickSize":-8,"tickWidth":1.5,"labelFontSize":21,"labelPadding":17,"labelOverlap":false,"labelFlush":false,"labelBound":false}},
    "y":{"field":"v","type":"quantitative","scale":{"type":"log","domain":[1,1000],"nice":false},"axis":{"values":[1,2,3,4,5,6,7,8,9,10,20,30,40,50,60,70,80,90,100,200,300,400,500,600,700,800,900,1000],"tickCount":60,"labelExpr":"indexof([1,10,100,1000],datum.value)>=0?format(datum.value,'d'):''","tickSize":{"condition":{"test":"indexof([1,10,100,1000],datum.value)>=0","value":-10},"value":-6},"tickWidth":2,"labelFontSize":24,"labelPadding":14,"title":"Hbl/chondrite","titleFontSize":25,"titlePadding":-9,"labelOverlap":false,"labelFlush":false,"labelBound":false}},
    "detail":{"field":"s","type":"nominal"},
    "stroke":{"field":"t","type":"nominal","scale":{"domain":["k","kd","b"],"range":["#231f20","#231f20","#3a3a8c"]},"legend":null},
    "strokeDash":{"field":"t","type":"nominal","scale":{"domain":["k","kd","b"],"range":[[1,0],[10,4],[1,0]]},"legend":null}}},
  {"data":{"name":"B"},"transform":[{"lookup":"s","from":{"data":{"name":"series"},"key":"s","fields":["k","t"]}}],
   "mark":{"type":"point","filled":false,"fill":"#f5a3a3","stroke":"#5a3a3a","strokeWidth":0.8,"size":105,"opacity":1,"fillOpacity":1,"strokeOpacity":1},
   "encoding":{"x":{"field":"z","type":"quantitative"},"y":{"field":"v","type":"quantitative"},
    "shape":{"field":"k","type":"nominal","scale":{"domain":["ci","oc","ge","gr"],"range":["circle","triangle-down","triangle-up","square"]},
     "legend":{"orient":"none","legendX":215,"legendY":15,"title":null,"labelFontSize":18,"labelLimit":400,"labelExpr":"datum.value=='ci'?'olive-brown core interiors':datum.value=='oc'?'olive-brown outer core zones':datum.value=='ge'?'green embayed zones':'green rims'","symbolSize":130,"symbolFillColor":"#f5a3a3","symbolStrokeColor":"#5a3a3a","symbolStrokeWidth":1,"symbolOpacity":1,"rowPadding":4,"labelOffset":11,"padding":0}}}},
  {"data":{"values":[{}]},"mark":{"type":"text","align":"right","baseline":"middle","fontSize":20.5},"encoding":{"x":{"datum":63.2,"type":"quantitative"},"y":{"datum":637,"type":"quantitative"},"text":{"value":"838–881°C"}}},
  {"data":{"values":[{}]},"mark":{"type":"text","align":"right","baseline":"middle","fontSize":20.5},"encoding":{"x":{"datum":63.2,"type":"quantitative"},"y":{"datum":368,"type":"quantitative"},"text":{"value":"708–754°C"}}},
  {"data":{"values":[{}]},"mark":{"type":"rule","stroke":"#555555","strokeWidth":1.5},"encoding":{"x":{"datum":59.9,"type":"quantitative"},"x2":{"datum":71.2},"y":{"datum":499,"type":"quantitative"}}},
  {"data":{"values":[{}]},"mark":{"type":"text","align":"left","baseline":"middle","fontSize":20.5,"lineHeight":23},"encoding":{"x":{"datum":60.11,"type":"quantitative"},"y":{"datum":7.37,"type":"quantitative"},"text":{"value":["Yellow Jacket Ridge unit","sample EP-219"]}}},
  {"data":{"values":[{}]},"mark":{"type":"text","align":"center","baseline":"alphabetic","fontSize":36},"encoding":{"x":{"datum":57.56,"type":"quantitative"},"y":{"datum":1.29,"type":"quantitative"},"text":{"value":"B"}}}
 ]
},
{
 "width":480,"height":564,
 "layer":[
  {"data":{"name":"E"},"transform":[{"lookup":"s","from":{"data":{"name":"series"},"key":"s","fields":["k","t"]}},{"filter":"datum.t=='o'"}],
   "mark":{"type":"line","stroke":"#b4bd75","strokeWidth":5,"strokeDash":[15,6]},
   "encoding":{
    "x":{"field":"z","type":"quantitative","scale":{"domain":[56.55,71.47],"nice":false,"zero":false},"axis":{"values":[57,58,59,60,61,62,63,64,65,66,67,68,69,70,71],"tickCount":30,"labelExpr":"['La','Ce','Pr','Nd','','Sm','Eu','Gd','Tb','Dy','Ho','Er','Tm','Yb','Lu'][datum.value-57]","title":null,"tickSize":-8,"tickWidth":1.5,"labelFontSize":21,"labelPadding":17,"labelOverlap":false,"labelFlush":false,"labelBound":false}},
    "y":{"field":"v","type":"quantitative","scale":{"type":"log","domain":[1,1000],"nice":false},"axis":{"values":[1,2,3,4,5,6,7,8,9,10,20,30,40,50,60,70,80,90,100,200,300,400,500,600,700,800,900,1000],"tickCount":60,"labelExpr":"indexof([1,10,100,1000],datum.value)>=0?format(datum.value,'d'):''","tickSize":{"condition":{"test":"indexof([1,10,100,1000],datum.value)>=0","value":-10},"value":-6},"tickWidth":2,"labelFontSize":24,"labelPadding":14,"title":null,"labelOverlap":false,"labelFlush":false,"labelBound":false}},
    "detail":{"field":"s","type":"nominal"}}},
  {"data":{"name":"E"},"transform":[{"lookup":"s","from":{"data":{"name":"series"},"key":"s","fields":["k","t"]}},{"filter":"datum.t=='g'"}],
   "mark":{"type":"line","stroke":"#00a651","strokeWidth":3.2},
   "encoding":{"x":{"field":"z","type":"quantitative"},"y":{"field":"v","type":"quantitative"},"detail":{"field":"s","type":"nominal"}}},
  {"data":{"name":"E"},"transform":[{"lookup":"s","from":{"data":{"name":"series"},"key":"s","fields":["k","t"]}},{"filter":"datum.t=='K'"}],
   "mark":{"type":"line","stroke":"#111111","strokeWidth":2.5},
   "encoding":{"x":{"field":"z","type":"quantitative"},"y":{"field":"v","type":"quantitative"},"detail":{"field":"s","type":"nominal"}}},
  {"data":{"name":"E"},"transform":[{"lookup":"s","from":{"data":{"name":"series"},"key":"s","fields":["k","t"]}}],
   "mark":{"type":"point","filled":false,"fill":"#c4c5c8","stroke":"#231f20","strokeWidth":1,"size":135,"opacity":1,"fillOpacity":1,"strokeOpacity":1},
   "encoding":{"x":{"field":"z","type":"quantitative"},"y":{"field":"v","type":"quantitative"},
    "shape":{"field":"k","type":"nominal","scale":{"domain":["ci","oc","ge","gr"],"range":["circle","triangle-down","triangle-up","square"]},
     "legend":{"orient":"none","legendX":208,"legendY":12,"title":null,"labelFontSize":18,"labelLimit":400,"labelExpr":"datum.value=='ci'?'olive-brown core interiors':datum.value=='oc'?'olive-brown outer core zones':datum.value=='ge'?'green embayed zones':'green rims'","symbolSize":130,"symbolFillColor":"#c4c5c8","symbolStrokeColor":"#231f20","symbolStrokeWidth":1,"symbolOpacity":1,"rowPadding":4,"labelOffset":11,"padding":0}}}},
  {"data":{"values":[{}]},"mark":{"type":"text","align":"right","baseline":"middle","fontSize":20.5},"encoding":{"x":{"datum":62.72,"type":"quantitative"},"y":{"datum":632,"type":"quantitative"},"text":{"value":"716–799°C"}}},
  {"data":{"values":[{}]},"mark":{"type":"text","align":"right","baseline":"middle","fontSize":20.5},"encoding":{"x":{"datum":62.72,"type":"quantitative"},"y":{"datum":377,"type":"quantitative"},"text":{"value":"681–781°C"}}},
  {"data":{"values":[{}]},"mark":{"type":"rule","stroke":"#555555","strokeWidth":1.5},"encoding":{"x":{"datum":59.44,"type":"quantitative"},"x2":{"datum":70.97},"y":{"datum":495,"type":"quantitative"}}},
  {"data":{"values":[{}]},"mark":{"type":"text","align":"center","baseline":"middle","fontSize":20.5},"encoding":{"x":{"datum":70.23,"type":"quantitative"},"y":{"datum":65.2,"type":"quantitative"},"text":{"value":"715°"}}},
  {"data":{"values":[{}]},"mark":{"type":"text","align":"left","baseline":"middle","fontSize":20.5,"lineHeight":23},"encoding":{"x":{"datum":60.94,"type":"quantitative"},"y":{"datum":5.33,"type":"quantitative"},"text":{"value":["Chimney Rock unit","sample RBEP-024"]}}},
  {"data":{"values":[{}]},"mark":{"type":"text","align":"center","baseline":"alphabetic","fontSize":36},"encoding":{"x":{"datum":57.58,"type":"quantitative"},"y":{"datum":1.29,"type":"quantitative"},"text":{"value":"E"}}}
 ]
},
{
 "width":480,"height":564,
 "layer":[
  {"data":{"name":"C"},"transform":[{"lookup":"s","from":{"data":{"name":"series"},"key":"s","fields":["k","t"]}}],
   "mark":{"type":"line","strokeWidth":1},
   "encoding":{
    "x":{"field":"z","type":"quantitative","scale":{"domain":[56.55,71.47],"nice":false,"zero":false},"axis":{"values":[57,58,59,60,61,62,63,64,65,66,67,68,69,70,71],"tickCount":30,"labelExpr":"['La','Ce','Pr','Nd','','Sm','Eu','Gd','Tb','Dy','Ho','Er','Tm','Yb','Lu'][datum.value-57]","title":null,"tickSize":-8,"tickWidth":1.5,"labelFontSize":21,"labelPadding":17,"labelOverlap":false,"labelFlush":false,"labelBound":false}},
    "y":{"field":"v","type":"quantitative","scale":{"type":"log","domain":[1,1000],"nice":false},"axis":{"values":[1,2,3,4,5,6,7,8,9,10,20,30,40,50,60,70,80,90,100,200,300,400,500,600,700,800,900,1000],"tickCount":60,"labelExpr":"indexof([1,10,100,1000],datum.value)>=0?format(datum.value,'d'):''","tickSize":{"condition":{"test":"indexof([1,10,100,1000],datum.value)>=0","value":-10},"value":-6},"tickWidth":2,"labelFontSize":24,"labelPadding":14,"title":"Hbl/chondrite","titleFontSize":25,"titlePadding":-9,"labelOverlap":false,"labelFlush":false,"labelBound":false}},
    "detail":{"field":"s","type":"nominal"},
    "stroke":{"field":"t","type":"nominal","scale":{"domain":["k","kd","b"],"range":["#231f20","#231f20","#3a3a8c"]},"legend":null},
    "strokeDash":{"field":"t","type":"nominal","scale":{"domain":["k","kd","b"],"range":[[1,0],[10,4],[1,0]]},"legend":null}}},
  {"data":{"name":"C"},"transform":[{"lookup":"s","from":{"data":{"name":"series"},"key":"s","fields":["k","t"]}}],
   "mark":{"type":"point","filled":false,"fill":"#f5a3a3","stroke":"#5a3a3a","strokeWidth":0.8,"size":105,"opacity":1,"fillOpacity":1,"strokeOpacity":1},
   "encoding":{"x":{"field":"z","type":"quantitative"},"y":{"field":"v","type":"quantitative"},
    "shape":{"field":"k","type":"nominal","scale":{"domain":["ci","oc","ge","gr"],"range":["circle","triangle-down","triangle-up","square"]},
     "legend":{"orient":"none","legendX":214,"legendY":18,"title":null,"labelFontSize":18,"labelLimit":400,"labelExpr":"datum.value=='ci'?'olive-brown core interiors':datum.value=='oc'?'olive-brown outer core zones':datum.value=='ge'?'green embayed zones':'green rims'","symbolSize":130,"symbolFillColor":"#f5a3a3","symbolStrokeColor":"#5a3a3a","symbolStrokeWidth":1,"symbolOpacity":1,"rowPadding":4,"labelOffset":11,"padding":0}}}},
  {"data":{"values":[{}]},"mark":{"type":"text","align":"right","baseline":"middle","fontSize":20.5},"encoding":{"x":{"datum":63.2,"type":"quantitative"},"y":{"datum":600,"type":"quantitative"},"text":{"value":"807–844°C"}}},
  {"data":{"values":[{}]},"mark":{"type":"text","align":"right","baseline":"middle","fontSize":20.5},"encoding":{"x":{"datum":63.2,"type":"quantitative"},"y":{"datum":347,"type":"quantitative"},"text":{"value":"708–768°C"}}},
  {"data":{"values":[{}]},"mark":{"type":"rule","stroke":"#231f20","strokeWidth":1.5},"encoding":{"x":{"datum":59.8,"type":"quantitative"},"x2":{"datum":71.3},"y":{"datum":470,"type":"quantitative"}}},
  {"data":{"values":[{}]},"mark":{"type":"text","align":"left","baseline":"middle","fontSize":20.5,"lineHeight":23},"encoding":{"x":{"datum":60.77,"type":"quantitative"},"y":{"datum":7.67,"type":"quantitative"},"text":{"value":["Yellow Jacket Ridge unit","sample EP-155"]}}},
  {"data":{"values":[{}]},"mark":{"type":"text","align":"center","baseline":"alphabetic","fontSize":36},"encoding":{"x":{"datum":57.79,"type":"quantitative"},"y":{"datum":1.27,"type":"quantitative"},"text":{"value":"C"}}}
 ]
},
{
 "width":480,"height":564,
 "layer":[
  {"data":{"name":"F"},"transform":[{"lookup":"s","from":{"data":{"name":"series"},"key":"s","fields":["k","t"]}}],
   "mark":{"type":"line","strokeWidth":1.2},
   "encoding":{
    "x":{"field":"z","type":"quantitative","scale":{"domain":[56.55,71.47],"nice":false,"zero":false},"axis":{"values":[57,58,59,60,61,62,63,64,65,66,67,68,69,70,71],"tickCount":30,"labelExpr":"['La','Ce','Pr','Nd','','Sm','Eu','Gd','Tb','Dy','Ho','Er','Tm','Yb','Lu'][datum.value-57]","title":null,"tickSize":-8,"tickWidth":1.5,"labelFontSize":21,"labelPadding":17,"labelOverlap":false,"labelFlush":false,"labelBound":false}},
    "y":{"field":"v","type":"quantitative","scale":{"type":"log","domain":[100,1000000],"nice":false},"axis":{"values":[100,200,300,400,500,600,700,800,900,1000,2000,3000,4000,5000,6000,7000,8000,9000,10000,20000,30000,40000,50000,60000,70000,80000,90000,100000,200000,300000,400000,500000,600000,700000,800000,900000,1000000],"tickCount":80,"labelExpr":"datum.value==100?'10²':datum.value==1000?'10³':datum.value==10000?'10⁴':datum.value==100000?'10⁵':datum.value==1000000?'10⁶':''","tickSize":{"condition":{"test":"indexof([100,1000,10000,100000,1000000],datum.value)>=0","value":-10},"value":-6},"tickWidth":2,"labelFontSize":24,"labelPadding":14,"title":"allanite/chondrite","titleFontSize":23,"titlePadding":-7.5,"labelOverlap":false,"labelFlush":false,"labelBound":false}},
    "detail":{"field":"s","type":"nominal"},
    "stroke":{"field":"t","type":"nominal","scale":{"domain":["k","b"],"range":["#231f20","#2e2e7a"]},"legend":null}}},
  {"data":{"name":"F"},"transform":[{"lookup":"s","from":{"data":{"name":"series"},"key":"s","fields":["k","t"]}}],
   "mark":{"type":"point","filled":true,"fill":"#1e1e1e","stroke":"#000000","strokeWidth":0.8,"size":100,"opacity":1},
   "encoding":{"x":{"field":"z","type":"quantitative"},"y":{"field":"v","type":"quantitative"},
    "shape":{"field":"k","type":"nominal","scale":{"domain":["ci","oc","ge","gr"],"range":["circle","triangle-down","triangle-up","square"]},"legend":null}}},
  {"data":{"values":[{}]},"mark":{"type":"text","align":"left","baseline":"middle","fontSize":20.5,"lineHeight":23.5},"encoding":{"x":{"datum":61.04,"type":"quantitative"},"y":{"datum":117200,"type":"quantitative"},"text":{"value":["allanite","Chimney Rock unit","sample RBEP-022"]}}},
  {"data":{"values":[{}]},"mark":{"type":"text","align":"center","baseline":"alphabetic","fontSize":36},"encoding":{"x":{"datum":57.69,"type":"quantitative"},"y":{"datum":142,"type":"quantitative"},"text":{"value":"F"}}}
 ]
}
]
}
